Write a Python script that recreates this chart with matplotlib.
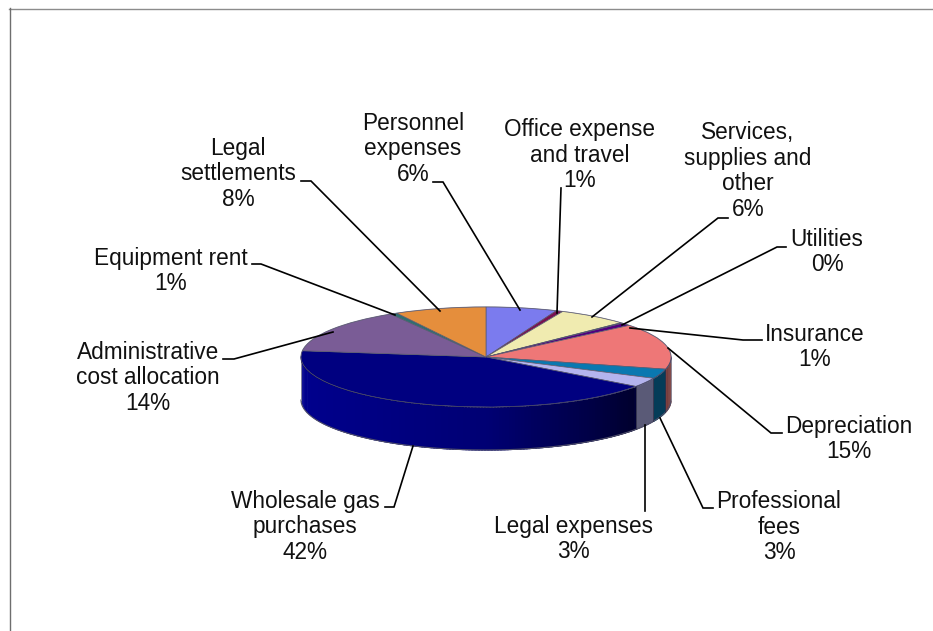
import numpy as np
import matplotlib
matplotlib.use("Agg")
import matplotlib.pyplot as plt
from matplotlib.colors import to_rgb

plt.rcParams['font.family'] = ['Liberation Sans', 'DejaVu Sans']

# slices, clockwise from 12 o'clock
labels = ["Personnel\nexpenses\n6%", "Office expense\nand travel\n1%",
          "Services,\nsupplies and\nother\n6%", "Utilities\n0%", "Insurance\n1%",
          "Depreciation\n15%", "Professional\nfees\n3%", "Legal expenses\n3%",
          "Wholesale gas\npurchases\n42%", "Administrative\ncost allocation\n14%",
          "Equipment rent\n1%", "Legal\nsettlements\n8%"]
values = [6.2, 0.6, 6.2, 0.2, 0.9, 14.8, 3.1, 3.0, 42.0, 14.4, 0.6, 8.0]
colors = ["#7B7BEE", "#7A1050", "#F0EBB0", "#2F7F80", "#500080", "#EE7777",
          "#0A78B0", "#B4B4EE", "#000080", "#7A5C96", "#2F6F70", "#E58E3C"]

# label layout in pixels: text centre, then the leader line
label_pos = [(413, 149), (580, 155), (748, 171), (827, 252), (815, 347), (849, 439),
             (779, 527), (573, 539), (305, 527), (148, 378), (171, 271), (238, 174)]
leaders = [[(433, 182), (443, 182), (520, 310)],
           [(561, 188), (557, 313)],
           [(728, 218), (718, 218), (592, 317)],
           [(786, 247), (777, 247), (622, 325)],
           [(762, 340), (743, 340), (630, 328)],
           [(782, 433), (771, 433), (668, 348)],
           [(713, 508), (703, 508), (660, 418)],
           [(645, 511), (645, 425)],
           [(385, 507), (394, 507), (413, 446)],
           [(223, 359), (234, 359), (333, 332)],
           [(252, 264), (261, 264), (395, 315)],
           [(301, 181), (311, 181), (440, 311)]]

W, H = 933, 631
cx, cy, rx, ry = 486, 357, 185, 50
depth = 43 / ry

fig = plt.figure(figsize=(W / 100, H / 100), dpi=100, facecolor='white')

# pie axes: the unit circle is squashed into the ellipse of the top face
ax = fig.add_axes([(cx - rx) / W, (H - cy - ry) / H, 2 * rx / W, 2 * ry / H])
wedges, _ = ax.pie(values, colors=colors, startangle=90, counterclock=False, radius=1,
                   wedgeprops=dict(edgecolor='#5A5A70', linewidth=0.5, clip_on=False, zorder=5))
ax.set_aspect('auto')
ax.set_xlim(-1, 1)
ax.set_ylim(-1, 1)
ax.axis('off')

# side wall, built from thin strips with shading that runs left to right
edges = np.cumsum([0] + values) / sum(values) * 360
for i in range(len(values)):
    a0, a1 = edges[i], edges[i + 1]
    if a1 <= 90 or a0 >= 270:
        continue
    a0, a1 = max(a0, 90), min(a1, 270)
    steps = np.linspace(a0, a1, max(2, int(a1 - a0) + 1))
    base = np.array(to_rgb(colors[i]))
    for s0, s1 in zip(steps[:-1], steps[1:]):
        # each strip runs on under the next one, so no seams show
        t = np.radians(np.linspace(s1 + 0.8, s0, 5))
        t = np.clip(t, np.radians(a0), np.radians(a1))
        x = np.sin(t)
        y = np.cos(t)
        f = np.interp(x.mean(), [-1, 0, 0.55, 0.79, 0.81, 1], [1.1, 0.9, 0.55, 0.36, 0.5, 0.5])
        ax.fill_between(x, y, y - depth, color=np.clip(base * f, 0, 1), linewidth=0,
                        clip_on=False, zorder=2)

# rim lines
t = np.radians(np.linspace(90, 270, 200))
ax.plot(np.sin(t), np.cos(t) - depth, color='#50506A', lw=0.8, clip_on=False, zorder=3)
ax.plot(np.sin(t), np.cos(t), color='#00003C', lw=0.8, clip_on=False, zorder=4)
for xs in (-1, 1):
    ax.plot([xs, xs], [0, -depth], color='#8A8A9A', lw=0.6, clip_on=False, zorder=3)
for b in edges:
    if 90 < b < 270:
        r = np.radians(b)
        ax.plot([np.sin(r)] * 2, [np.cos(r), np.cos(r) - depth], color='#30304A', lw=0.6,
                clip_on=False, zorder=3)
t = np.radians(np.linspace(-90, 90, 200))
ax.plot(np.sin(t), np.cos(t), color='#9A9AAE', lw=0.8, clip_on=False, zorder=4)

# overlay axes in pixels for the border, the leaders and the text
ov = fig.add_axes([0, 0, 1, 1], facecolor='none')
ov.set_xlim(0, W)
ov.set_ylim(H, 0)
ov.axis('off')
ov.plot([9, W], [8.5, 8.5], color='#8C8C8C', lw=1.0)
ov.plot([9.5, 9.5], [8, H], color='#6E6E6E', lw=1.0)

for lab, (tx, ty), pts in zip(labels, label_pos, leaders):
    ov.plot([p[0] for p in pts], [p[1] for p in pts], color='black', lw=1.2,
            solid_joinstyle='miter', zorder=6)
    ov.text(tx, ty, lab, ha='center', va='center', fontsize=16.3, color='#111111',
            linespacing=1.13, zorder=7)

fig.savefig("out.png", dpi=100)
